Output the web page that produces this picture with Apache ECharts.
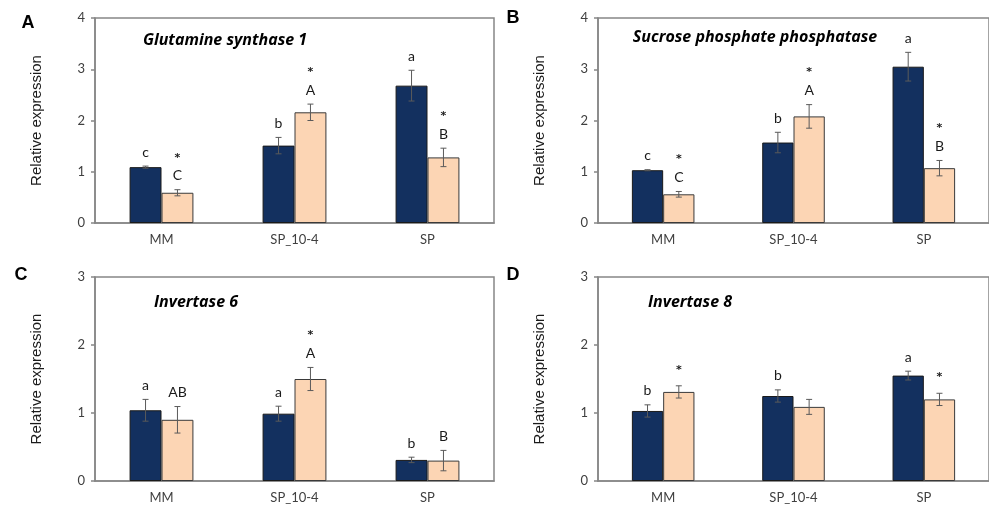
<!DOCTYPE html>
<html>
<head>
<meta charset="utf-8">
<script src="https://cdn.jsdelivr.net/npm/echarts@6/dist/echarts.min.js"></script>
<style>
html,body{margin:0;padding:0;background:#fff;}
#chart{width:989px;height:507px;}
</style>
</head>
<body>
<div id="chart"></div>
<script>
// ---------- data ----------
const categories = ['MM', 'SP_10-4', 'SP'];

// Panel A: Glutamine synthase 1
const gs1Dark = [1.09, 1.51, 2.68];
const gs1DarkErr = [0.02, 0.16, 0.30];
const gs1Light = [0.59, 2.16, 1.28];
const gs1LightErr = [0.06, 0.16, 0.18];
const gs1DarkLetters = ['c', 'b', 'a'];
const gs1LightLetters = ['C', 'A', 'B'];
const gs1LightStars = ['*', '*', '*'];

// Panel B: Sucrose phosphate phosphatase
const sppDark = [1.03, 1.57, 3.05];
const sppDarkErr = [0.01, 0.20, 0.28];
const sppLight = [0.56, 2.08, 1.07];
const sppLightErr = [0.055, 0.23, 0.15];
const sppDarkLetters = ['c', 'b', 'a'];
const sppLightLetters = ['C', 'A', 'B'];
const sppLightStars = ['*', '*', '*'];

// Panel C: Invertase 6
const inv6Dark = [1.04, 0.99, 0.31];
const inv6DarkErr = [0.16, 0.11, 0.04];
const inv6Light = [0.90, 1.50, 0.30];
const inv6LightErr = [0.195, 0.17, 0.15];
const inv6DarkLetters = ['a', 'a', 'b'];
const inv6LightLetters = ['AB', 'A', 'B'];
const inv6LightStars = ['', '*', ''];

// Panel D: Invertase 8
const inv8Dark = [1.03, 1.25, 1.55];
const inv8DarkErr = [0.09, 0.09, 0.065];
const inv8Light = [1.31, 1.09, 1.20];
const inv8LightErr = [0.09, 0.11, 0.09];
const inv8DarkLetters = ['b', 'b', 'a'];
const inv8LightLetters = ['', '', ''];
const inv8LightStars = ['*', '', '*'];

const yTicksTop = [0, 1, 2, 3, 4];
const yTicksBottom = [0, 1, 2, 3];

const panelLetters = ['A', 'B', 'C', 'D'];
const geneTitles = ['Glutamine synthase 1', 'Sucrose phosphate phosphatase', 'Invertase 6', 'Invertase 8'];

// ---------- styling ----------
const NAVY = '#13305f';
const PEACH = '#fcd5b4';
const AXIS = '#868686';
const TXT = '#404040';
const BAR_FRAC = 0.24;

const panels = [
  {dark: gs1Dark, darkErr: gs1DarkErr, light: gs1Light, lightErr: gs1LightErr,
   dl: gs1DarkLetters, ll: gs1LightLetters, ls: gs1LightStars, ticks: yTicksTop,
   grid: {left: 95, top: 18, width: 399, height: 205}},
  {dark: sppDark, darkErr: sppDarkErr, light: sppLight, lightErr: sppLightErr,
   dl: sppDarkLetters, ll: sppLightLetters, ls: sppLightStars, ticks: yTicksTop,
   grid: {left: 598, top: 18, width: 398, height: 205}},
  {dark: inv6Dark, darkErr: inv6DarkErr, light: inv6Light, lightErr: inv6LightErr,
   dl: inv6DarkLetters, ll: inv6LightLetters, ls: inv6LightStars, ticks: yTicksBottom,
   grid: {left: 95, top: 277, width: 399, height: 204}},
  {dark: inv8Dark, darkErr: inv8DarkErr, light: inv8Light, lightErr: inv8LightErr,
   dl: inv8DarkLetters, ll: inv8LightLetters, ls: inv8LightStars, ticks: yTicksBottom,
   grid: {left: 598, top: 277, width: 398, height: 204}}
];

const LETTER_FONT = '14px Lato, "Open Sans", sans-serif';
const STAR_FONT = 'bold 11px "DejaVu Sans", sans-serif';

function errSeries(idx, values, errs, letters, stars, side) {
  return {
    type: 'custom',
    xAxisIndex: idx, yAxisIndex: idx,
    z: 10, clip: false, silent: true,
    data: values.map((v, k) => [k, v, errs[k]]),
    renderItem: function (params, api) {
      const k = api.value(0), v = api.value(1), e = api.value(2);
      const band = api.size([1, 0])[0];
      const bw = band * BAR_FRAC;
      const c = api.coord([k, v]);
      const x = c[0] + side * bw / 2;
      const yT = api.coord([k, v + e])[1];
      const yB = api.coord([k, v - e])[1];
      const cap = 3;
      const st = {stroke: '#5a5a5a', lineWidth: 1};
      const children = [
        {type: 'line', shape: {x1: x, y1: yT, x2: x, y2: yB}, style: st},
        {type: 'line', shape: {x1: x - cap, y1: yT, x2: x + cap, y2: yT}, style: st},
        {type: 'line', shape: {x1: x - cap, y1: yB, x2: x + cap, y2: yB}, style: st}
      ];
      const letter = letters[params.dataIndex] || '';
      const star = stars[params.dataIndex] || '';
      let y = yT - 14;
      if (letter) {
        children.push({type: 'text', x: x, y: y,
          style: {text: letter, align: 'center', verticalAlign: 'middle', font: LETTER_FONT, fill: '#1a1a1a'}});
        y -= 18;
      } else {
        y = yT - 16;
      }
      if (star) {
        children.push({type: 'text', x: x, y: y,
          style: {text: star, align: 'center', verticalAlign: 'middle', font: STAR_FONT, fill: '#1a1a1a'}});
      }
      return {type: 'group', children: children};
    }
  };
}

const grids = [], xAxes = [], yAxes = [], series = [];
panels.forEach((p, i) => {
  grids.push(Object.assign({show: true, borderColor: AXIS, borderWidth: 1.5, backgroundColor: 'transparent', containLabel: false}, p.grid));
  xAxes.push({
    type: 'category', gridIndex: i, data: categories,
    axisLine: {lineStyle: {color: AXIS, width: 1.5}},
    axisTick: {show: false},
    axisLabel: {color: TXT, fontSize: 13, fontFamily: 'Lato, "Open Sans", sans-serif', margin: 10}
  });
  const maxV = p.ticks[p.ticks.length - 1];
  yAxes.push({
    type: 'value', gridIndex: i, min: p.ticks[0], max: maxV, interval: 1,
    name: 'Relative expression', nameLocation: 'middle', nameGap: 51,
    nameTextStyle: {fontFamily: '"Liberation Sans", Arial, sans-serif', fontSize: 15, color: '#1a1a1a'},
    axisLine: {show: true, lineStyle: {color: AXIS, width: 1.5}},
    axisTick: {show: true, length: 4, lineStyle: {color: AXIS, width: 1.5}},
    axisLabel: {color: TXT, fontSize: 13, fontFamily: 'Lato, "Open Sans", sans-serif', margin: 10},
    splitLine: {show: false}
  });
  series.push({
    type: 'bar', xAxisIndex: i, yAxisIndex: i, data: p.dark,
    barWidth: (BAR_FRAC * 100) + '%', barGap: '0%',
    itemStyle: {color: NAVY, borderColor: '#1a1a1a', borderWidth: 1}
  });
  series.push({
    type: 'bar', xAxisIndex: i, yAxisIndex: i, data: p.light,
    barWidth: (BAR_FRAC * 100) + '%', barGap: '0%',
    itemStyle: {color: PEACH, borderColor: '#3a3a3a', borderWidth: 1}
  });
  series.push(errSeries(i, p.dark, p.darkErr, p.dl, [], -1));
  series.push(errSeries(i, p.light, p.lightErr, p.ll, p.ls, 1));
});

const letterPos = [[28, 23], [513, 18], [21, 275], [513, 275]];
const titlePos = [[225, 40], [755, 37], [196, 302], [690, 302]];
const graphics = [];
panelLetters.forEach((t, i) => {
  graphics.push({type: 'text', x: letterPos[i][0], y: letterPos[i][1],
    style: {text: t, align: 'center', verticalAlign: 'middle', font: 'bold 18px "Liberation Sans", Arial, sans-serif', fill: '#000'}});
});
geneTitles.forEach((t, i) => {
  graphics.push({type: 'text', x: titlePos[i][0], y: titlePos[i][1],
    style: {text: t, align: 'center', verticalAlign: 'middle', font: 'italic bold 16px "Open Sans", Lato, sans-serif', fill: '#000'}});
});

const chart = echarts.init(document.getElementById('chart'), null, {renderer: 'canvas'});
chart.setOption({
  animation: false,
  backgroundColor: '#fff',
  grid: grids,
  xAxis: xAxes,
  yAxis: yAxes,
  series: series,
  graphic: graphics
});
</script>
</body>
</html>
